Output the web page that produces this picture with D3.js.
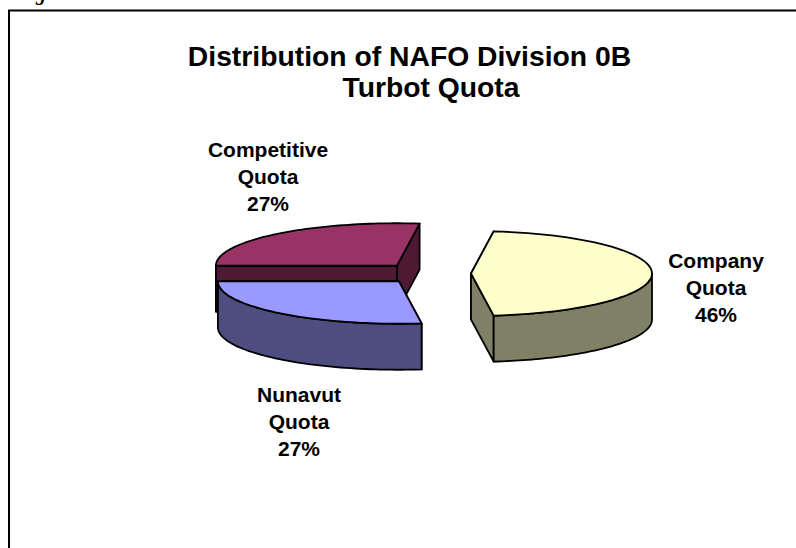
<!DOCTYPE html>
<html>
<head>
<meta charset="utf-8">
<script src="https://cdn.jsdelivr.net/npm/d3@7"></script>
<style>
  html, body { margin: 0; padding: 0; background: #fff; overflow: hidden; }
  svg { display: block; }
  text { font-family: "Liberation Sans", Arial, sans-serif; font-weight: bold; fill: #000; }
</style>
</head>
<body>
<script>
'use strict';

var categories = ['Company Quota', 'Competitive Quota', 'Nunavut Quota'];
var values = [46, 27, 27];
var topColors = ['#ffffcc', '#993366', '#9999ff'];
var sideColors = ['#808066', '#4d1933', '#4d4d80'];
var labelLines = [['Company', 'Quota', '46%'], ['Competitive', 'Quota', '27%'], ['Nunavut', 'Quota', '27%']];
var titleLines = ['Distribution of NAFO Division 0B', 'Turbot Quota'];

var width = 796, height = 548;
var cx = 427, cy = 273.5, rx = 181, ry = 42.5, depth = 46, explode = 44;
var nudgeX = [0, -1, 1];

var svg = d3.select('body').append('svg').attr('width', width).attr('height', height);

// frame, runs off the right and bottom of the picture
svg.append('rect').attr('x', 9).attr('y', 10.5).attr('width', 800).attr('height', 600)
  .attr('fill', '#fff').attr('stroke', '#000').attr('stroke-width', 2);

// cut off caption above the frame, only the descender shows
svg.append('text').attr('x', 17).attr('y', 0).attr('font-size', 20)
  .style('font-family', '"Liberation Serif", serif').style('font-style', 'italic').text('Figure');

svg.selectAll('text.title').data(titleLines).enter().append('text')
  .attr('class', 'title')
  .attr('x', function(d, i) { return i === 0 ? 409.5 : 431; })
  .attr('y', function(d, i) { return 66 + i * 31; })
  .attr('text-anchor', 'middle').attr('font-size', 28.3).text(function(d) { return d; });

// pie angles: company centred on 3 o'clock
var companySweep = values[0] / d3.sum(values) * 2 * Math.PI;
var arcs = d3.pie().sort(null).value(function(d) { return d; })
  .startAngle(-companySweep / 2).endAngle(2 * Math.PI - companySweep / 2)(values);

function pt(c, a, yOff) {
  return [c[0] + rx * Math.cos(a), c[1] + ry * Math.sin(a) + (yOff || 0)];
}

function ellipseArc(c, a0, a1, yOff, reverse) {
  // sampled outline between two angles
  var n = 60, out = [];
  d3.range(n + 1).forEach(function(i) {
    out.push(pt(c, a0 + (a1 - a0) * i / n, yOff));
  });
  return reverse ? out.reverse() : out;
}

var line = d3.line();

function drawSlice(idx) {
  var a = arcs[idx];
  // negated so the slice after company lands at the back of the pie
  var a0 = -a.startAngle, a1 = -a.endAngle;
  var mid = (a0 + a1) / 2;
  var c = [cx + explode * Math.cos(mid) + nudgeX[idx], cy + explode * (ry / rx) * Math.sin(mid)];
  var g = svg.append('g').attr('stroke', '#000').attr('stroke-width', 1.8).attr('stroke-linejoin', 'round');
  var side = sideColors[idx];

  // radial walls, back one first
  var edges = [a0, a1].sort(function(p, q) { return Math.sin(p) - Math.sin(q); });
  edges.forEach(function(e) {
    var p = pt(c, e);
    g.append('path').attr('fill', side)
      .attr('d', line([c, p, [p[0], p[1] + depth], [c[0], c[1] + depth]]) + 'Z');
  });

  // rim wall, front half of the ellipse only
  var lo = Math.min(a0, a1), hi = Math.max(a0, a1);
  [[lo, hi], [lo + 2 * Math.PI, hi + 2 * Math.PI], [lo - 2 * Math.PI, hi - 2 * Math.PI]].forEach(function(r) {
    var s = Math.max(r[0], 0), t = Math.min(r[1], Math.PI);
    if (t > s) {
      g.append('path').attr('fill', side)
        .attr('d', line(ellipseArc(c, s, t).concat(ellipseArc(c, s, t, depth, true))) + 'Z');
    }
  });

  // top face
  g.append('path').attr('fill', topColors[idx])
    .attr('d', line([c].concat(ellipseArc(c, a0, a1))) + 'Z');
}

// back slice first
drawSlice(1);
drawSlice(2);
drawSlice(0);

var labelX = [716, 268, 299], labelY = [268, 157, 402];
labelLines.forEach(function(lines, i) {
  svg.append('g').selectAll('text').data(lines).enter().append('text')
    .attr('x', labelX[i])
    .attr('y', function(d, k) { return labelY[i] + k * 27; })
    .attr('text-anchor', 'middle').attr('font-size', 21).text(function(d) { return d; });
});
</script>
</body>
</html>
